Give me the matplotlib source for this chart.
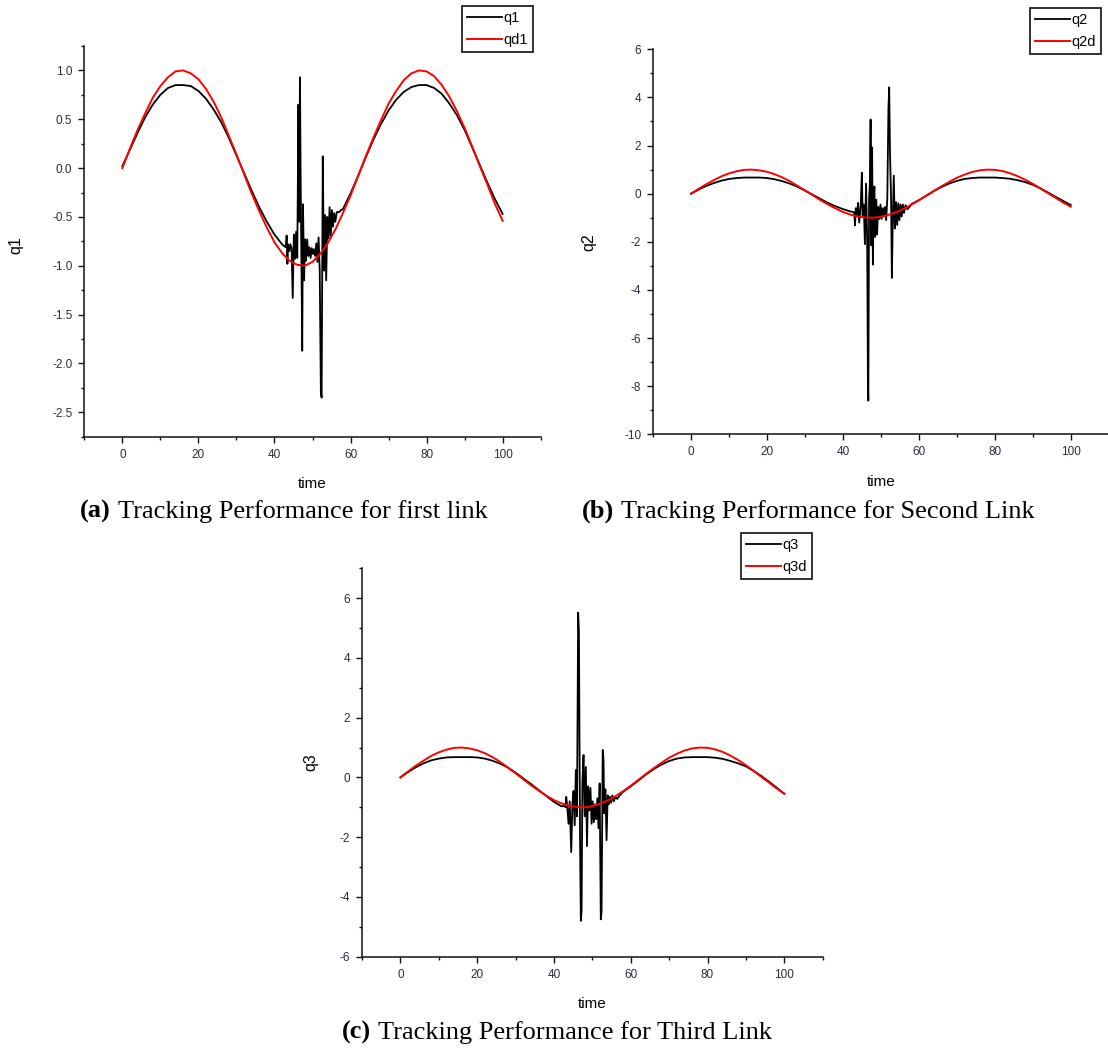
import matplotlib
matplotlib.use("Agg")
import matplotlib.pyplot as plt
from matplotlib.ticker import MultipleLocator

W, H = 1108, 1048

# ---- time bases -------------------------------------------------------------
t_ref = [0, 2, 4, 6, 8, 10, 12, 14, 16, 18, 20, 22, 24, 26, 28, 30, 32, 34, 36,
         38, 40, 42, 44, 46, 48, 50, 52, 54, 56, 58, 60, 62, 64, 66, 68, 70, 72,
         74, 76, 78, 80, 82, 84, 86, 88, 90, 92, 94, 96, 98, 100]
t_pre = [0, 2, 4, 6, 8, 10, 12, 14, 16, 18, 20, 22, 24, 26, 28, 30, 32, 34, 36,
         38, 40, 42]
t_post = [58, 60, 62, 64, 66, 68, 70, 72, 74, 76, 78, 80, 82, 84, 86, 88, 90,
          92, 94, 96, 98, 100]

# ---- desired trajectory (same for all three links) --------------------------
qd = [0.00, 0.20, 0.39, 0.56, 0.72, 0.84, 0.93, 0.99, 1.00, 0.97, 0.91, 0.81,
      0.68, 0.52, 0.33, 0.14, -0.06, -0.26, -0.44, -0.61, -0.76, -0.87, -0.95,
      -0.99, -1.00, -0.96, -0.88, -0.77, -0.63, -0.46, -0.28, -0.08, 0.12, 0.31,
      0.49, 0.66, 0.79, 0.90, 0.97, 1.00, 0.99, 0.94, 0.85, 0.73, 0.58, 0.41,
      0.22, 0.02, -0.17, -0.37, -0.54]

# ---- link 1 -----------------------------------------------------------------
q1_pre = [0.02, 0.19, 0.36, 0.52, 0.65, 0.75, 0.82, 0.85, 0.85, 0.84, 0.79,
          0.71, 0.60, 0.47, 0.31, 0.13, -0.05, -0.23, -0.40, -0.55, -0.68, -0.78]
q1_burst_t = [42.6, 43.0, 43.2, 43.4, 43.6, 43.9, 44.2, 44.5, 44.8, 45.1, 45.4,
              45.7, 46.0, 46.3, 46.5, 46.7, 46.9, 47.1, 47.3, 47.5, 47.8, 48.0,
              48.3, 48.6, 48.9, 49.2, 49.5, 49.8, 50.1, 50.4, 50.7, 51.0, 51.3,
              51.6, 51.9, 52.2, 52.4, 52.7, 53.0, 53.3, 53.6, 53.9, 54.2, 54.5,
              54.8, 55.1, 55.4, 55.7, 56.0, 56.4, 57.0, 57.5]
q1_burst_v = [-0.80, -0.81, -0.69, -0.98, -0.78, -0.85, -0.78, -0.82, -1.33,
              -0.68, -0.93, -0.65, -0.92, 0.65, -0.55, 0.93, -0.18, -1.00, -1.87,
              -0.37, -1.15, -0.73, -0.95, -0.73, -0.90, -0.81, -0.92, -0.82,
              -0.88, -0.83, -0.90, -0.77, -0.96, -0.71, -1.05, -2.30, -2.35, 0.12,
              -1.05, -0.48, -1.15, -0.50, -0.72, -0.40, -0.70, -0.43, -0.60,
              -0.46, -0.55, -0.45, -0.45, -0.43]
q1_post = [-0.42, -0.26, -0.08, 0.11, 0.29, 0.45, 0.59, 0.70, 0.78, 0.83, 0.85,
           0.85, 0.82, 0.76, 0.66, 0.54, 0.39, 0.21, 0.03, -0.15, -0.32, -0.47]

# ---- link 2 -----------------------------------------------------------------
q2_pre = [0.00, 0.17, 0.32, 0.44, 0.54, 0.61, 0.65, 0.67, 0.67, 0.67, 0.65,
          0.60, 0.52, 0.42, 0.29, 0.13, -0.04, -0.21, -0.38, -0.52, -0.64, -0.74]
q2_burst_t = [42.6, 43.0, 43.2, 43.4, 43.7, 44.0, 44.3, 44.7, 45.0, 45.2, 45.5,
              45.8, 46.1, 46.4, 46.6, 46.7, 46.9, 47.1, 47.3, 47.5, 47.7, 47.9,
              48.1, 48.3, 48.5, 48.8, 49.0, 49.3, 49.6, 49.9, 50.2, 50.5, 50.8,
              51.1, 51.4, 51.7, 52.0, 52.2, 52.4, 52.7, 52.9, 53.1, 53.4, 53.7,
              54.0, 54.3, 54.6, 54.9, 55.2, 55.5, 55.8, 56.1, 56.5, 57.0, 57.5]
q2_burst_v = [-0.76, -0.78, -1.32, -0.60, -0.95, -0.38, -1.20, -0.50, 0.87,
              -0.90, -0.45, -2.10, 0.42, -1.95, -7.90, -8.60, -0.20, 0.40, 3.08,
              -2.15, 1.92, -2.95, -0.40, 0.30, -1.80, -0.25, -1.70, -0.55, -1.05,
              -0.45, -1.05, -0.60, -0.95, -0.55, -1.10, -0.20, 3.55, 4.42, 1.80,
              -0.30, -3.50, -1.50, 0.75, -1.45, -0.35, -1.30, -0.40, -1.10, -0.45,
              -0.95, -0.45, -0.80, -0.48, -0.65, -0.55]
q2_post = [-0.44, -0.27, -0.08, 0.11, 0.28, 0.42, 0.53, 0.61, 0.65, 0.67, 0.67,
           0.67, 0.65, 0.62, 0.56, 0.48, 0.37, 0.22, 0.05, -0.13, -0.30, -0.47]

# ---- link 3 -----------------------------------------------------------------
q3_pre = [0.00, 0.18, 0.34, 0.47, 0.57, 0.63, 0.67, 0.68, 0.68, 0.68, 0.67,
          0.63, 0.56, 0.46, 0.33, 0.16, -0.03, -0.22, -0.42, -0.62, -0.82, -0.97]
q3_burst_t = [42.6, 43.0, 43.2, 43.5, 43.8, 44.1, 44.5, 44.8, 45.1, 45.4, 45.7,
              46.0, 46.3, 46.5, 46.8, 47.0, 47.2, 47.4, 47.7, 48.0, 48.3, 48.6,
              48.9, 49.2, 49.5, 49.8, 50.1, 50.4, 50.7, 51.0, 51.3, 51.6, 51.9,
              52.2, 52.4, 52.7, 52.9, 53.1, 53.4, 53.7, 54.0, 54.3, 54.6, 54.9,
              55.2, 55.6, 56.0, 56.5, 57.0, 57.5]
q3_burst_v = [-0.95, -1.00, -0.65, -1.05, -1.55, -0.80, -2.50, -0.90, -0.45,
              -1.60, 0.25, -1.30, 5.52, 4.88, -2.20, -4.80, -4.45, -0.20, 0.75,
              -1.30, 0.35, -2.30, -0.30, -1.10, -0.35, -1.55, -0.80, -1.50,
              -0.90, -1.40, -0.70, -1.70, -0.20, -4.75, -4.50, 0.92, 0.60, -1.20,
              -0.40, -2.10, -0.60, -0.90, -0.65, -0.85, -0.60, -0.80, -0.65,
              -0.72, -0.62, -0.55]
q3_post = [-0.48, -0.30, -0.10, 0.10, 0.28, 0.43, 0.55, 0.63, 0.67, 0.68, 0.68,
           0.68, 0.66, 0.62, 0.55, 0.47, 0.37, 0.22, 0.05, -0.14, -0.34, -0.55]

x_ticks = [0, 20, 40, 60, 80, 100]

TICK_COLOR = "#2b2b3b"
plt.rcParams["font.family"] = ["Liberation Sans", "DejaVu Sans"]
plt.rcParams["axes.unicode_minus"] = False

fig = plt.figure(figsize=(W / 100, H / 100), dpi=100)
fig.patch.set_facecolor("white")


def px_axes(left, top, right, bottom):
    return fig.add_axes([left / W, 1 - bottom / H, (right - left) / W,
                         (bottom - top) / H])


def style(ax, ylim, ymajor, yminor, fmt):
    ax.set_xlim(-10, 110)
    ax.set_ylim(*ylim)
    for s in ("top", "right"):
        ax.spines[s].set_visible(False)
    for s in ("left", "bottom"):
        ax.spines[s].set_linewidth(1.1)
        ax.spines[s].set_color("#111111")
    ax.set_xticks(x_ticks)
    ax.xaxis.set_minor_locator(MultipleLocator(10))
    ax.yaxis.set_major_locator(MultipleLocator(ymajor))
    ax.yaxis.set_minor_locator(MultipleLocator(yminor))
    ax.yaxis.set_major_formatter(fmt)
    ax.tick_params(which="major", direction="out", length=4.5, width=1.0,
                   color="#111111", labelsize=8.5, labelcolor=TICK_COLOR, pad=4)
    ax.tick_params(which="minor", direction="out", length=2.5, width=1.0,
                   color="#111111")


def draw(ax, pre, bt, bv, post, name_q, name_d):
    tt = t_pre + bt + t_post
    vv = pre + bv + post
    ax.plot(tt, vv, color="black", lw=1.3, label=name_q, zorder=2)
    ax.plot(t_ref, qd, color="#ff0000", lw=1.4, label=name_d, zorder=3)


def legend(ax, left, top):
    leg = ax.legend(loc="upper left", bbox_to_anchor=(left / W, 1 - top / H),
                    bbox_transform=fig.transFigure, frameon=True,
                    fancybox=False, framealpha=1, edgecolor="#222222",
                    fontsize=10.5, borderpad=0.35, labelspacing=0.55,
                    handlelength=2.4, handletextpad=0.1, borderaxespad=0)
    leg.get_frame().set_linewidth(1.3)
    return leg


# (a) first link
ax_a = px_axes(84.3, 46, 540.7, 436.7)
draw(ax_a, q1_pre, q1_burst_t, q1_burst_v, q1_post, "q1", "qd1")
style(ax_a, (-2.75, 1.25), 0.5, 0.25, "{x:.1f}")
ax_a.set_xlabel("time", fontsize=11, labelpad=12)
ax_a.set_ylabel("q1", fontsize=11.5)
ax_a.yaxis.set_label_coords(-0.134, 0.49)
legend(ax_a, 462, 6)

# (b) second link
ax_b = px_axes(653, 49.3, 1108.7, 434.3)
draw(ax_b, q2_pre, q2_burst_t, q2_burst_v, q2_post, "q2", "q2d")
style(ax_b, (-10, 6), 2, 1, "{x:.0f}")
ax_b.set_xlabel("time", fontsize=11, labelpad=12)
ax_b.set_ylabel("q2", fontsize=11.5)
ax_b.yaxis.set_label_coords(-0.125, 0.5)
legend(ax_b, 1030, 8)

# (c) third link
ax_c = px_axes(362, 568.3, 822.7, 956.7)
draw(ax_c, q3_pre, q3_burst_t, q3_burst_v, q3_post, "q3", "q3d")
style(ax_c, (-6, 7), 2, 1, "{x:.0f}")
ax_c.set_xlabel("time", fontsize=11, labelpad=12)
ax_c.set_ylabel("q3", fontsize=11.5)
ax_c.yaxis.set_label_coords(-0.095, 0.5)
legend(ax_c, 741, 533)


# captions: bold panel letter followed by a plain title
def caption(x, y, tag, text):
    t1 = fig.text(x / W, 1 - y / H, tag, fontsize=19, fontweight="bold",
                  family="Liberation Serif", ha="left", va="baseline")
    ax_a.annotate(text, xy=(1, 0), xycoords=t1, xytext=(5, 0),
                  textcoords="offset points", fontsize=19,
                  family="Liberation Serif", ha="left", va="bottom",
                  annotation_clip=False)


caption(80, 518, "(a)", "Tracking Performance for first link")
caption(582, 518, "(b)", "Tracking Performance for Second Link")
caption(342, 1039, "(c)", "Tracking Performance for Third Link")

fig.savefig("out.png", dpi=100, facecolor="white")
